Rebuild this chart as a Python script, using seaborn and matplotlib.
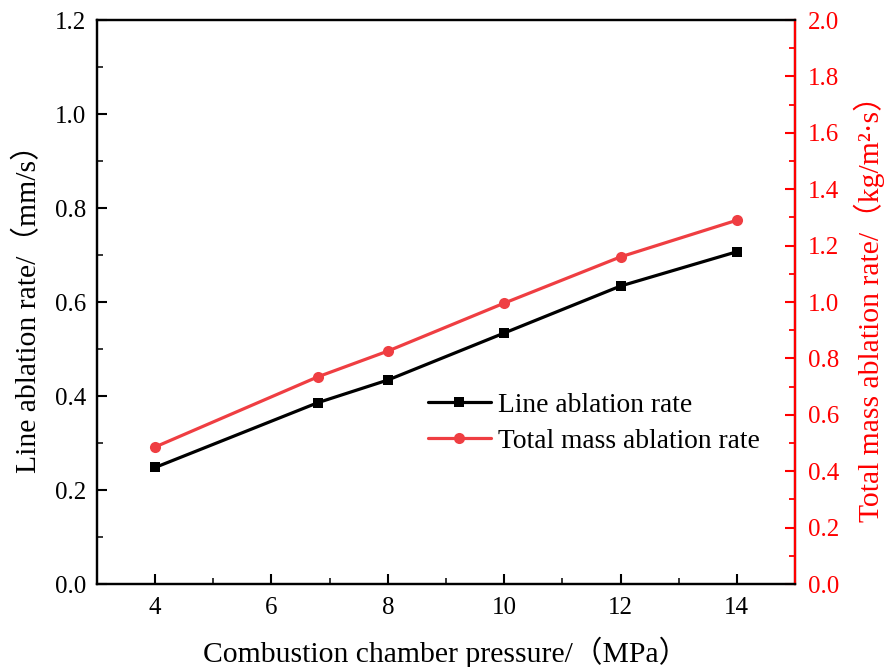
import matplotlib
matplotlib.use("Agg")
import matplotlib.pyplot as plt
import seaborn as sns
import pandas as pd
from matplotlib.ticker import MultipleLocator

# Combustion chamber pressure (MPa)
pressure = [4, 6.8, 8, 10, 12, 14]
# Line ablation rate (mm/s)
line_rate = [0.248, 0.386, 0.434, 0.534, 0.634, 0.707]
# Total mass ablation rate (kg/m^2·s)
mass_rate = [0.486, 0.735, 0.826, 0.996, 1.160, 1.290]

x_ticks = [4, 6, 8, 10, 12, 14]
left_ticks = [0.0, 0.2, 0.4, 0.6, 0.8, 1.0, 1.2]
right_ticks = [0.0, 0.2, 0.4, 0.6, 0.8, 1.0, 1.2, 1.4, 1.6, 1.8, 2.0]

df = pd.DataFrame({"pressure": pressure, "line": line_rate, "mass": mass_rate})

sns.set_style("ticks")
plt.rcParams["font.family"] = ["Liberation Serif", "Noto Sans CJK SC"]
plt.rcParams["text.color"] = "black"
plt.rcParams["axes.labelcolor"] = "black"

BLACK = "#000000"
RED_LINE = "#EF3E42"
RED_AXIS = "#FF0000"

fig = plt.figure(figsize=(8.88, 6.67), dpi=100)
ax = fig.add_axes([0.1092, 0.1244, 0.7861, 0.8456])
ax2 = ax.twinx()

sns.lineplot(data=df, x="pressure", y="line", ax=ax, color=BLACK, linewidth=2.3,
             marker="s", markersize=7, markeredgewidth=0, label="Line ablation rate",
             legend=False)
sns.lineplot(data=df, x="pressure", y="mass", ax=ax2, color=RED_LINE, linewidth=2.3,
             marker="o", markersize=8, markeredgewidth=0, label="Total mass ablation rate",
             legend=False)

ax.set_xlim(3, 15)
ax.set_ylim(0, 1.2)
ax2.set_ylim(0, 2.0)
ax.set_xticks(x_ticks)
ax.set_yticks(left_ticks)
ax2.set_yticks(right_ticks)
ax.set_xticklabels([str(v) for v in x_ticks])
ax.set_yticklabels([f"{v:.1f}" for v in left_ticks])
ax2.set_yticklabels([f"{v:.1f}" for v in right_ticks])
ax.xaxis.set_minor_locator(MultipleLocator(1))
ax.yaxis.set_minor_locator(MultipleLocator(0.1))
ax2.yaxis.set_minor_locator(MultipleLocator(0.1))

for a in (ax, ax2):
    for s in a.spines.values():
        s.set_linewidth(1.6)
        s.set_color(BLACK)
ax2.spines["right"].set_color(RED_AXIS)

ax.tick_params(axis="both", which="major", direction="in", length=7, width=1.5,
               labelsize=18, colors=BLACK, labelcolor=BLACK, pad=8)
ax.tick_params(axis="both", which="minor", direction="in", length=4, width=1.3)
ax.tick_params(axis="x", which="both", top=False, pad=9)
ax2.tick_params(axis="y", which="major", direction="in", length=7, width=1.5,
                labelsize=18, colors=RED_AXIS, pad=9)
ax2.tick_params(axis="y", which="minor", direction="in", length=4, width=1.3,
                colors=RED_AXIS)

ax.set_xlabel("Combustion chamber pressure/（MPa）", fontsize=21.3, labelpad=13,
              color=BLACK)
ax.set_ylabel("Line ablation rate/（mm/s）", fontsize=21.3, labelpad=9, color=BLACK)
ax2.set_ylabel("Total mass ablation rate/（kg/m²·s）", fontsize=21.3, color=RED_AXIS,
               labelpad=11)

h1, l1 = ax.get_legend_handles_labels()
h2, l2 = ax2.get_legend_handles_labels()
leg = ax2.legend(h1 + h2, l1 + l2, loc="center left", bbox_to_anchor=(0.474, 0.285),
                 frameon=False, fontsize=19.8, handlelength=2.3, handletextpad=0.25,
                 borderpad=0, borderaxespad=0, labelspacing=0.38)
for t in leg.get_texts():
    t.set_color(BLACK)

fig.savefig("out.png", dpi=100)
